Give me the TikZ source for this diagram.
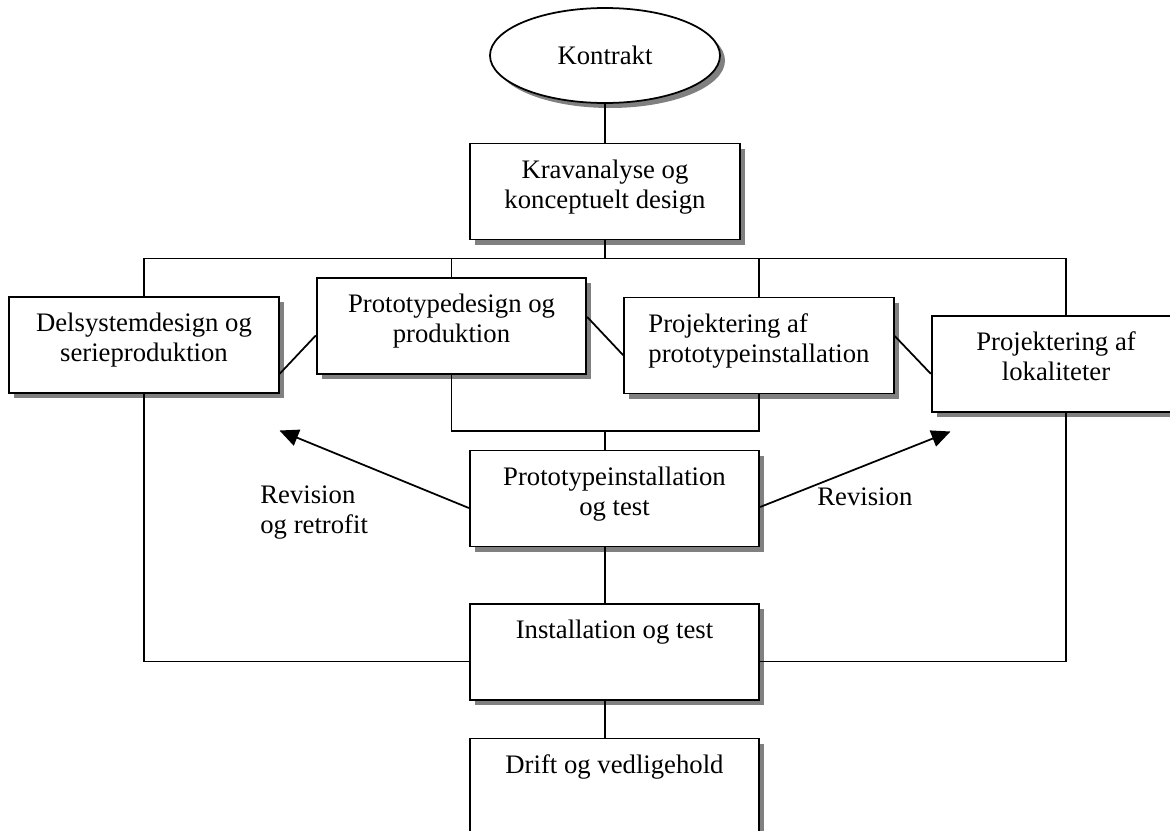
\documentclass[tikz,border=0pt]{standalone}
\usepackage{fontspec}
\setmainfont{Liberation Serif}
\usetikzlibrary{shapes.geometric,shadows,arrows.meta}

\begin{document}
\begin{tikzpicture}[
  font=\fontsize{15.2}{17.1}\selectfont,
  line width=1pt,
  skygge/.style={drop shadow={shadow xshift=0.1cm, shadow yshift=-0.1cm, fill=black!50, opacity=1}},
  fase/.style={draw, fill=white, rectangle, skygge, minimum width=5.39cm, minimum height=1.92cm,
    inner sep=0pt, align=center, text depth=0.3cm},
  bred/.style={fase, minimum width=5.79cm},
  revpil/.style={-{Triangle[length=0.38cm, width=0.34cm]}}
]
  \useasboundingbox (0,0) rectangle (23.40,-16.62);
  \clip (0,0) rectangle (23.40,-16.62);
  \node[draw, fill=white, ellipse, skygge, minimum width=4.60cm, minimum height=1.90cm, inner sep=0pt] (kontrakt) at (12.10,-1.11) {Kontrakt};
  \node[fase] (krav) at (12.10,-3.83) {Kravanalyse og\\konceptuelt design};
  \node[fase] (delsys) at (2.88,-6.90) {Delsystemdesign og\\serieproduktion};
  \node[fase] (protodes) at (9.03,-6.52) {Prototypedesign og\\produktion};
  \node[fase, align=left] (projproto) at (15.18,-6.91) {Projektering af\\prototypeinstallation};
  \node[fase, minimum width=4.97cm] (lokal) at (21.12,-7.28) {Projektering af\\lokaliteter};
  \node[bred] (protoinst) at (12.29,-9.97) {Prototypeinstallation\\og test};
  \node[bred, text depth=0.9cm] (instal) at (12.29,-13.04) {Installation og test};
  \node[bred, text depth=0.9cm] (drift) at (12.29,-15.73) {Drift og vedligehold};
  \node[inner sep=0pt, anchor=north west, align=left] (revretro) at (5.19,-9.69) {Revision\\og retrofit};
  \node[inner sep=0pt, anchor=north west] (rev) at (16.33,-9.74) {Revision};
  \coordinate (bus) at (12.10,-5.17);
  \coordinate (midbus) at (12.10,-8.62);
  \coordinate (venstrespids) at (5.59,-8.61);
  \coordinate (hoejrespids) at (19.01,-8.63);
  % Draw the connections
  \draw (kontrakt) -- (krav);
  \draw (krav) -- (bus);
  \draw (delsys.north) |- (bus) -| ([xshift=0.2cm]lokal.north);
  \draw (protodes.north) -- (protodes.north |- bus);
  \draw (projproto.north) -- (projproto.north |- bus);
  \draw ([yshift=0.4cm]delsys.south east) -- ([yshift=0.79cm]protodes.south west);
  \draw ([yshift=1.16cm]protodes.south east) -- ([yshift=0.78cm]projproto.south west);
  \draw ([yshift=1.17cm]projproto.south east) -- ([yshift=0.78cm]lokal.south west);
  \draw (protodes.south) |- (midbus) -| (projproto.south);
  \draw (midbus) -- (midbus |- protoinst.north);
  \draw (protoinst.south -| midbus) -- (instal.north -| midbus);
  \draw (instal.south -| midbus) -- (drift.north -| midbus);
  \draw (delsys.south) |- ([yshift=-0.19cm]instal.west);
  \draw ([xshift=0.2cm]lokal.south) |- ([yshift=-0.19cm]instal.east);
  % Draw the revision arrows
  \draw[revpil] ([yshift=-0.19cm]protoinst.west) -- (venstrespids);
  \draw[revpil] ([yshift=-0.17cm]protoinst.east) -- (hoejrespids);
\end{tikzpicture}
\end{document}
